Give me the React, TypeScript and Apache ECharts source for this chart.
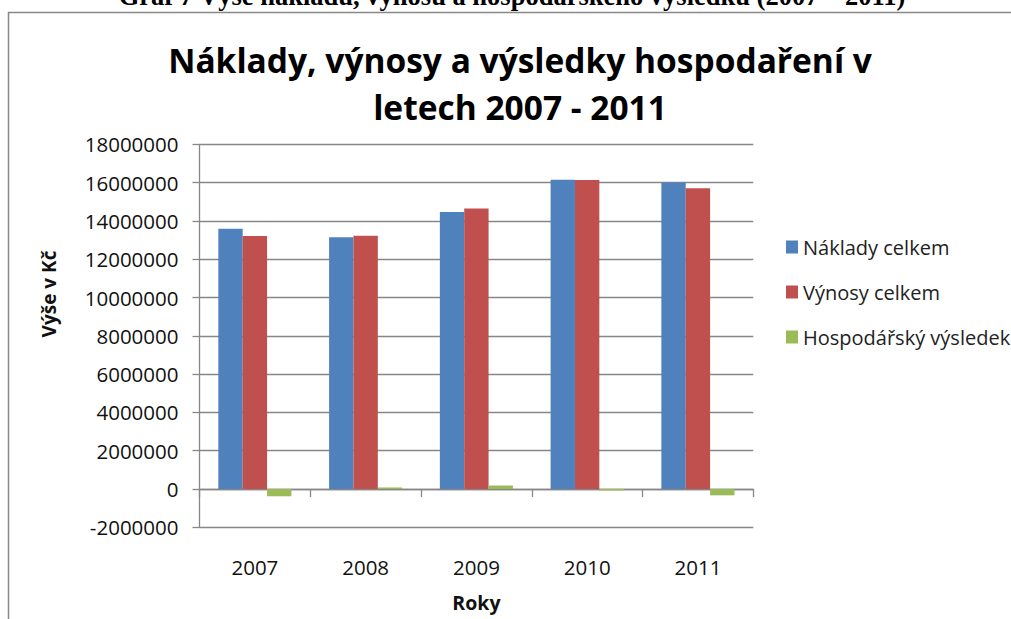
import React, { useEffect, useRef } from "react";
import * as echarts from "echarts";

const years = ["2007", "2008", "2009", "2010", "2011"];
const naklady = [13590000, 13140000, 14470000, 16150000, 16000000];
const vynosy = [13210000, 13220000, 14650000, 16140000, 15700000];
const vysledek = [-380000, 80000, 180000, -70000, -330000];
const seriesNames = ["Náklady celkem", "Výnosy celkem", "Hospodářský výsledek"];
const colors = ["#4F81BD", "#C0504D", "#9BBB59"];
const yMin = -2000000;
const yMax = 18000000;
const yStep = 2000000;

const FONT = "'Open Sans', sans-serif";

export default function App() {
  const ref = useRef<HTMLDivElement>(null);
  useEffect(() => {
    if (!ref.current) return;
    const chart = echarts.init(ref.current, undefined, { renderer: "svg" });
    chart.setOption({
      animation: false,
      backgroundColor: "#ffffff",
      textStyle: { fontFamily: FONT },
      title: {
        text: "Náklady, výnosy a výsledky hospodaření v\nletech 2007 - 2011",
        left: 515,
        top: 31,
        textAlign: "center",
        textStyle: {
          fontFamily: FONT,
          fontSize: 33.5,
          fontWeight: "bold",
          color: "#000",
          lineHeight: 47,
        },
      },
      legend: {
        orient: "vertical",
        left: 781,
        top: 232,
        itemWidth: 12,
        itemHeight: 13,
        itemGap: 25,
        icon: "rect",
        data: seriesNames,
        textStyle: { fontFamily: FONT, fontSize: 20, color: "#222" },
      },
      grid: {
        left: 199.5,
        right: 1011 - 753.3,
        top: 144.3,
        bottom: 619 - 527.3,
        containLabel: false,
        outerBoundsMode: "none",
      },
      xAxis: {
        type: "category",
        data: years,
        boundaryGap: true,
        axisLine: { show: true, onZero: true, lineStyle: { color: "#878787", width: 1.3 } },
        axisTick: { show: true, length: 8, inside: false, lineStyle: { color: "#878787", width: 1.3 } },
        axisLabel: { margin: 29, fontSize: 20.5, color: "#111", fontFamily: FONT },
        name: "Roky",
        nameLocation: "middle",
        nameGap: 65,
        nameTextStyle: { fontSize: 19.5, fontWeight: "bold", color: "#111", fontFamily: FONT },
        splitLine: { show: false },
      },
      yAxis: {
        type: "value",
        min: yMin,
        max: yMax,
        interval: yStep,
        axisLine: { show: true, lineStyle: { color: "#878787", width: 1.3 } },
        axisTick: { show: true, length: 7, inside: false, lineStyle: { color: "#878787", width: 1.3 } },
        axisLabel: { margin: 21, fontSize: 20.5, color: "#111", fontFamily: FONT, formatter: (v: number) => String(v) },
        splitLine: { show: true, lineStyle: { color: "#878787", width: 1.3 } },
      },
      graphic: [
        {
          type: "line",
          shape: { x1: 8.5, y1: 12, x2: 8.5, y2: 619 },
          style: { stroke: "#888", lineWidth: 1.5 },
        },
        {
          type: "line",
          shape: { x1: 8, y1: 12.5, x2: 1011, y2: 12.5 },
          style: { stroke: "#888", lineWidth: 1.5 },
        },
        {
          type: "text",
          x: 512,
          y: 9,
          style: {
            text: "Graf 7 Výše nákladů, výnosů a hospodářského výsledku (2007 – 2011)",
            fontFamily: "'Liberation Serif', serif",
            fontWeight: "bold",
            fontSize: 26.5,
            fill: "#000",
            textAlign: "center",
            textVerticalAlign: "bottom",
          },
        },
        {
          type: "text",
          x: 49,
          y: 294,
          rotation: Math.PI / 2,
          style: {
            text: "Výše v Kč",
            fontFamily: FONT,
            fontWeight: "bold",
            fontSize: 19,
            fill: "#111",
            textAlign: "center",
            textVerticalAlign: "middle",
          },
        },
      ],
      series: [
        { name: seriesNames[0], type: "bar", data: naklady, itemStyle: { color: colors[0] }, barGap: "0%", barCategoryGap: "34%" },
        { name: seriesNames[1], type: "bar", data: vynosy, itemStyle: { color: colors[1] }, barGap: "0%", barCategoryGap: "34%" },
        { name: seriesNames[2], type: "bar", data: vysledek, itemStyle: { color: colors[2] }, barGap: "0%", barCategoryGap: "34%" },
      ],
    });
    return () => chart.dispose();
  }, []);
  return <div ref={ref} style={{ position: "fixed", left: 0, top: 0, width: 1011, height: 619 }} />;
}
